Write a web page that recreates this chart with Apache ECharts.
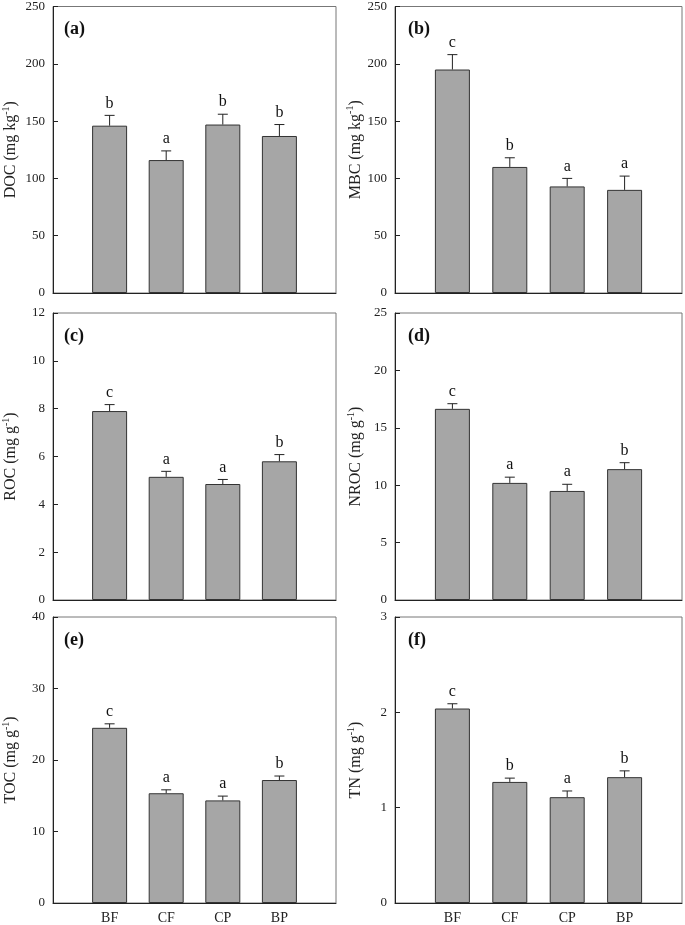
<!DOCTYPE html>
<html>
<head>
<meta charset="utf-8">
<script src="https://cdn.jsdelivr.net/npm/echarts@6/dist/echarts.min.js"></script>
<style>
html,body{margin:0;padding:0;background:#fff;}
#chart{width:685px;height:925px;}
</style>
</head>
<body>
<div id="chart"></div>
<script>
// ---- data ----
const categories = ['BF', 'CF', 'CP', 'BP'];

const docMean = [146, 116, 147, 137];
const docErr = [9, 8, 9, 10];
const docLetters = ['b', 'a', 'b', 'b'];

const mbcMean = [195, 110, 93, 90];
const mbcErr = [13, 8, 7, 12];
const mbcLetters = ['c', 'b', 'a', 'a'];

const rocMean = [7.9, 5.15, 4.85, 5.8];
const rocErr = [0.27, 0.23, 0.19, 0.28];
const rocLetters = ['c', 'a', 'a', 'b'];

const nrocMean = [16.65, 10.2, 9.5, 11.4];
const nrocErr = [0.45, 0.5, 0.58, 0.56];
const nrocLetters = ['c', 'a', 'a', 'b'];

const tocMean = [24.5, 15.35, 14.35, 17.2];
const tocErr = [0.56, 0.48, 0.6, 0.56];
const tocLetters = ['c', 'a', 'a', 'b'];

const tnMean = [2.04, 1.27, 1.11, 1.32];
const tnErr = [0.05, 0.04, 0.065, 0.066];
const tnLetters = ['c', 'b', 'a', 'b'];

const panelTags = ['(a)', '(b)', '(c)', '(d)', '(e)', '(f)'];
const axisTitles = [
  ['DOC (mg kg', '-1', ')'],
  ['MBC (mg kg', '-1', ')'],
  ['ROC (mg g', '-1', ')'],
  ['NROC (mg g', '-1', ')'],
  ['TOC (mg g', '-1', ')'],
  ['TN (mg g', '-1', ')']
];
const yMax = [250, 250, 12, 25, 40, 3];
const yStep = [50, 50, 2, 5, 10, 1];

// ---- build ----
const panels = [
  [docMean, docErr, docLetters],
  [mbcMean, mbcErr, mbcLetters],
  [rocMean, rocErr, rocLetters],
  [nrocMean, nrocErr, nrocLetters],
  [tocMean, tocErr, tocLetters],
  [tnMean, tnErr, tnLetters]
];

const FONT = '"Liberation Serif", "DejaVu Serif", serif';
const colLeft = [51, 395];
const colWidth = [285, 287];
const rowTop = [6, 313, 617];
const gridH = 287;
const axisCats = [''].concat(categories, ['']);

const grids = [], xAxes = [], yAxes = [], series = [], titles = [];

panels.forEach(function (p, i) {
  const col = i % 2, row = Math.floor(i / 2);
  grids.push({
    left: colLeft[col], top: rowTop[row], width: colWidth[col], height: gridH,
    show: true, borderColor: '#777', borderWidth: 1, backgroundColor: 'transparent'
  });
  xAxes.push({
    gridIndex: i, type: 'category', data: axisCats, boundaryGap: false,
    axisLine: { show: true, lineStyle: { color: '#222', width: 1 } },
    axisTick: { show: false },
    axisLabel: {
      show: row === 2, interval: 0, margin: 8,
      fontFamily: FONT, fontSize: 14, color: '#222'
    },
    splitLine: { show: false }
  });
  const t = axisTitles[i];
  yAxes.push({
    gridIndex: i, type: 'value', min: 0, max: yMax[i], interval: yStep[i],
    axisLine: { show: true, lineStyle: { color: '#222', width: 1 } },
    axisTick: { show: true, inside: true, length: 5, lineStyle: { color: '#222' } },
    axisLabel: { margin: 8, fontFamily: FONT, fontSize: 13, color: '#222' },
    splitLine: { show: false },
    name: '{t|' + t[0] + '}{s|' + t[1] + '}{t|' + t[2] + '}',
    nameLocation: 'middle',
    nameGap: col === 0 ? 34 : 31,
    nameTextStyle: {
      rich: {
        t: { fontFamily: FONT, fontSize: 16, color: '#222', verticalAlign: 'bottom', lineHeight: 18 },
        s: { fontFamily: FONT, fontSize: 10, color: '#222', verticalAlign: 'top', lineHeight: 10 }
      }
    }
  });
  const mean = p[0], err = p[1], letters = p[2];
  series.push({
    type: 'bar', xAxisIndex: i, yAxisIndex: i,
    data: categories.map(function (c, k) { return [c, mean[k]]; }),
    barWidth: 35,
    itemStyle: { color: '#a6a6a6', borderColor: '#333', borderWidth: 1 },
    silent: true, animation: false
  });
  series.push({
    type: 'custom', xAxisIndex: i, yAxisIndex: i, z: 5, animation: false, silent: true,
    data: categories.map(function (c, k) { return [c, mean[k], err[k]]; }),
    renderItem: function (params, api) {
      const x = api.value(0), v = api.value(1), e = api.value(2);
      const base = api.coord([x, v]);
      const top = api.coord([x, v + e]);
      const cx = base[0];
      return {
        type: 'group',
        children: [
          { type: 'line', shape: { x1: cx, y1: base[1], x2: cx, y2: top[1] }, style: { stroke: '#222', lineWidth: 1 } },
          { type: 'line', shape: { x1: cx - 5, y1: top[1], x2: cx + 5, y2: top[1] }, style: { stroke: '#222', lineWidth: 1 } },
          { type: 'text', style: { text: letters[params.dataIndex], x: cx, y: top[1] - 4, textAlign: 'center', textVerticalAlign: 'bottom', font: '16px ' + FONT, fill: '#111' } }
        ]
      };
    }
  });
  titles.push({
    text: panelTags[i], left: colLeft[col] + 8, top: rowTop[row] + 9,
    textStyle: { fontFamily: FONT, fontSize: 18, fontWeight: 'bold', color: '#111' }
  });
});

const chart = echarts.init(document.getElementById('chart'), null, { renderer: 'canvas' });
chart.setOption({
  backgroundColor: '#fff',
  animation: false,
  title: titles,
  grid: grids,
  xAxis: xAxes,
  yAxis: yAxes,
  series: series
});
</script>
</body>
</html>
